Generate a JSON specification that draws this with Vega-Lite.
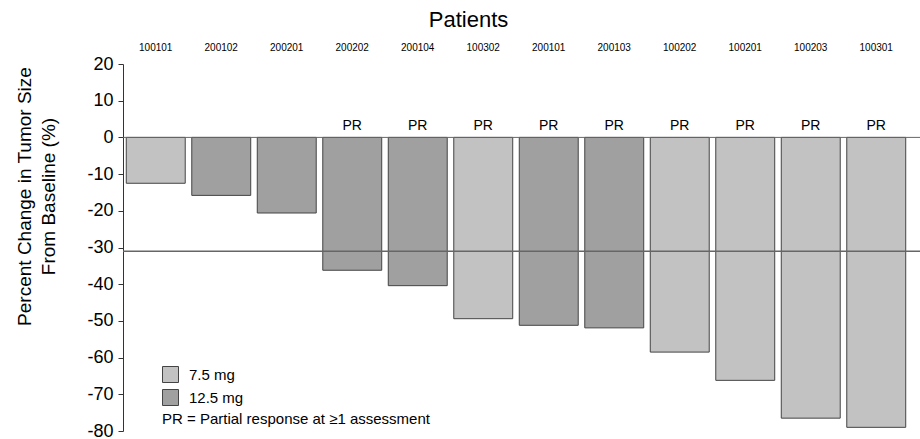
{
  "$schema": "https://vega.github.io/schema/vega-lite/v6.json",
  "width": 797,
  "height": 367,
  "autosize": {"type": "none"},
  "padding": {"left": 123, "top": 64, "right": 0, "bottom": 8},
  "background": "white",
  "config": {
    "font": "Liberation Sans",
    "view": {"stroke": null},
    "axis": {"grid": false}
  },
  "datasets": {
    "bars": [
      {"patient": "100101", "dose": "7.5 mg", "change": -12.5, "pr": false},
      {"patient": "200102", "dose": "12.5 mg", "change": -15.8, "pr": false},
      {"patient": "200201", "dose": "12.5 mg", "change": -20.6, "pr": false},
      {"patient": "200202", "dose": "12.5 mg", "change": -36.2, "pr": true},
      {"patient": "200104", "dose": "12.5 mg", "change": -40.4, "pr": true},
      {"patient": "100302", "dose": "7.5 mg", "change": -49.4, "pr": true},
      {"patient": "200101", "dose": "12.5 mg", "change": -51.2, "pr": true},
      {"patient": "200103", "dose": "12.5 mg", "change": -51.9, "pr": true},
      {"patient": "100202", "dose": "7.5 mg", "change": -58.5, "pr": true},
      {"patient": "100201", "dose": "7.5 mg", "change": -66.2, "pr": true},
      {"patient": "100203", "dose": "7.5 mg", "change": -76.5, "pr": true},
      {"patient": "100301", "dose": "7.5 mg", "change": -79.0, "pr": true}
    ],
    "lines": [
      {"change": 0, "kind": "zero"},
      {"change": -31, "kind": "threshold"}
    ]
  },
  "data": {"name": "bars"},
  "encoding": {
    "y": {
      "field": "change", "type": "quantitative",
      "scale": {"domain": [-80, 20], "nice": false},
      "axis": {
        "values": [20, 10, 0, -10, -20, -30, -40, -50, -60, -70, -80],
        "labelExpr": "datum.value + ''", "labelOverlap": false, "labelSeparation": 0,
        "title": ["Percent Change in Tumor Size", "From Baseline (%)"],
        "titleFontSize": 19, "titleFontWeight": "normal", "titleColor": "#000000",
        "titleLineHeight": 24, "titleY": 132, "titlePadding": 28,
        "labelFontSize": 18, "labelColor": "#000000", "labelPadding": 5,
        "tickSize": 5, "tickColor": "#333333", "domainColor": "#333333"
      }
    }
  },
  "layer": [
    {
      "mark": {"type": "bar", "stroke": "#444444", "strokeWidth": 1},
      "encoding": {
        "x": {
          "field": "patient", "type": "nominal", "sort": null,
          "scale": {"range": [0, 786], "paddingInner": 0.1, "paddingOuter": 0.05},
          "axis": {
            "orient": "top", "title": "Patients", "labelAngle": 0, "domain": false, "ticks": false,
            "labelFontSize": 10, "labelPadding": 12, "labelColor": "#000000",
            "titleFontSize": 22, "titleFontWeight": "normal", "titleColor": "#000000",
            "titlePadding": 11, "titleX": 345, "titleAlign": "center"
          }
        },
        "color": {
          "field": "dose", "type": "nominal",
          "scale": {"domain": ["7.5 mg", "12.5 mg"], "range": ["#c2c2c2", "#a0a0a0"]},
          "legend": {
            "orient": "none", "legendX": 39, "legendY": 302,
            "title": "PR = Partial response at ≥1 assessment", "titleOrient": "bottom",
            "titleFontSize": 15, "titleFontWeight": "normal", "titleColor": "#000000",
            "titleAnchor": "start", "titlePadding": 4, "titleLimit": 500,
            "labelFontSize": 15, "labelColor": "#000000", "labelOffset": 10,
            "symbolType": "square", "symbolSize": 256, "symbolStrokeColor": "#444444",
            "symbolStrokeWidth": 1, "symbolOpacity": 1, "rowPadding": 2
          }
        }
      }
    },
    {
      "transform": [{"filter": "datum.pr"}],
      "mark": {"type": "text", "dy": -11, "fontSize": 14, "color": "#000000"},
      "encoding": {
        "x": {"field": "patient", "type": "nominal", "sort": null},
        "y": {"datum": 0},
        "text": {"value": "PR"}
      }
    },
    {
      "data": {"name": "lines"},
      "mark": {"type": "rule"},
      "encoding": {
        "color": {"value": "#666666"},
        "strokeWidth": {"condition": {"test": "datum.kind === 'threshold'", "value": 1.5}, "value": 1}
      }
    }
  ]
}
